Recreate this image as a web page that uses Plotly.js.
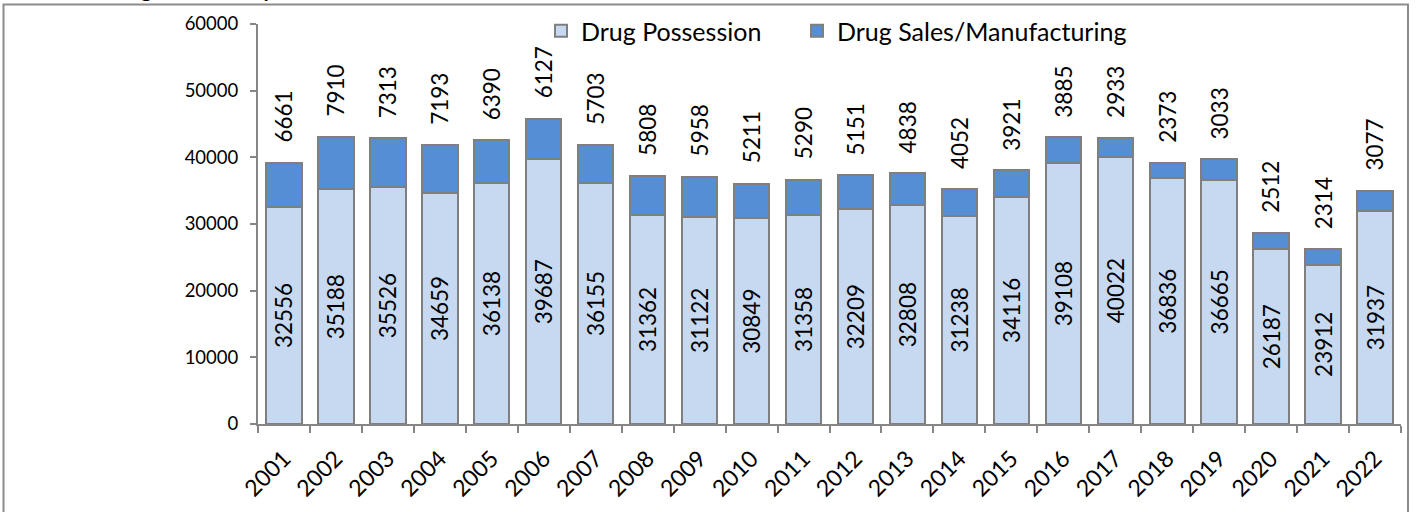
<!DOCTYPE html>
<html>
<head>
<meta charset="utf-8">
<script src="https://cdn.plot.ly/plotly-3.0.1.min.js"></script>
<style>html,body{margin:0;padding:0;background:#fff;}#chart{width:1417px;height:512px;}</style>
</head>
<body>
<div id="chart"></div>
<script>
const years = ["2001","2002","2003","2004","2005","2006","2007","2008","2009","2010","2011","2012","2013","2014","2015","2016","2017","2018","2019","2020","2021","2022"];
const possession = [32556,35188,35526,34659,36138,39687,36155,31362,31122,30849,31358,32209,32808,31238,34116,39108,40022,36836,36665,26187,23912,31937];
const salesManufacturing = [6661,7910,7313,7193,6390,6127,5703,5808,5958,5211,5290,5151,4838,4052,3921,3885,2933,2373,3033,2512,2314,3077];
const seriesNames = ["Drug Possession","Drug Sales/Manufacturing"];
const yTicks = [0,10000,20000,30000,40000,50000,60000];
const titleText = "Arrests for Drug Offenses, by Year";

const FONT = "Lato, 'Open Sans', sans-serif";
const W = 1417, H = 512;
const L = 258, R = 16, T = 24, B = 88;
const pw = W - L - R, ph = H - T - B;
const px = x => (x - L) / pw;
const py = y => (H - B - y) / ph;

const totals = possession.map((v, i) => v + salesManufacturing[i]);

const traces = [
  {
    type: "bar", name: seriesNames[0], x: years, y: possession, legend: "legend",
    marker: {color: "#C6D9F1", line: {color: "#7F7F7F", width: 2}},
    text: possession.map(String), textposition: "inside", insidetextanchor: "middle",
    textangle: -90, textfont: {family: FONT, size: 22.5, color: "#000"},
    constraintext: "none", hoverinfo: "x+y"
  },
  {
    type: "bar", name: seriesNames[1], x: years, y: salesManufacturing, legend: "legend2",
    marker: {color: "#558ED5", line: {color: "#7F7F7F", width: 2}},
    hoverinfo: "x+y"
  }
];

const annotations = years.map((yr, i) => ({
  x: i, y: totals[i], xref: "x", yref: "y",
  text: String(salesManufacturing[i]), showarrow: false,
  textangle: -90, xanchor: "center", yanchor: "bottom", yshift: 18,
  font: {family: FONT, size: 22.5, color: "#000"}
}));
annotations.push({
  xref: "paper", yref: "paper", x: px(-2), y: py(6), xanchor: "left", yanchor: "top",
  text: "<b>" + titleText + "</b>", showarrow: false,
  font: {family: FONT, size: 21, color: "#000"}, yshift: 32
});

const legendBase = {
  orientation: "h", xref: "container", yref: "container",
  xanchor: "left", y: 1 - 8 / H, yanchor: "top",
  font: {family: FONT, size: 25, color: "#000"}, itemwidth: 30,
  bgcolor: "rgba(255,255,255,0)"
};

const layout = {
  width: W, height: H,
  margin: {l: L, r: R, t: T, b: B, pad: 0, autoexpand: false},
  paper_bgcolor: "#fff", plot_bgcolor: "#fff",
  barmode: "stack", bargap: 0.32,
  showlegend: true,
  legend: Object.assign({}, legendBase, {x: 541 / W}),
  legend2: Object.assign({}, legendBase, {x: 797 / W}),
  xaxis: {
    type: "category", range: [-0.5, years.length - 0.5], autorange: false,
    tickangle: -45, tickson: "boundaries", ticklabelstandoff: 10,
    ticks: "outside", ticklen: 7, tickwidth: 2, tickcolor: "#868686",
    showline: true, linecolor: "#868686", linewidth: 2,
    showgrid: false, zeroline: false,
    tickfont: {family: FONT, size: 23, color: "#000"}
  },
  yaxis: {
    range: [0, 60000], autorange: false, tickvals: yTicks,
    ticktext: yTicks.map(String), ticklabelstandoff: 8,
    ticks: "outside", ticklen: 6, tickwidth: 2, tickcolor: "#868686",
    showline: true, linecolor: "#868686", linewidth: 2,
    showgrid: false, zeroline: false,
    tickfont: {family: FONT, size: 18.5, color: "#000"}
  },
  annotations: annotations,
  shapes: [{
    type: "rect", xref: "paper", yref: "paper",
    x0: px(3.5), x1: px(1408), y0: py(520), y1: py(4.5),
    line: {color: "#8C8C8C", width: 2}, fillcolor: "rgba(0,0,0,0)", layer: "below"
  }]
};

Plotly.newPlot("chart", traces, layout, {displayModeBar: false, staticPlot: true});
</script>
</body>
</html>
